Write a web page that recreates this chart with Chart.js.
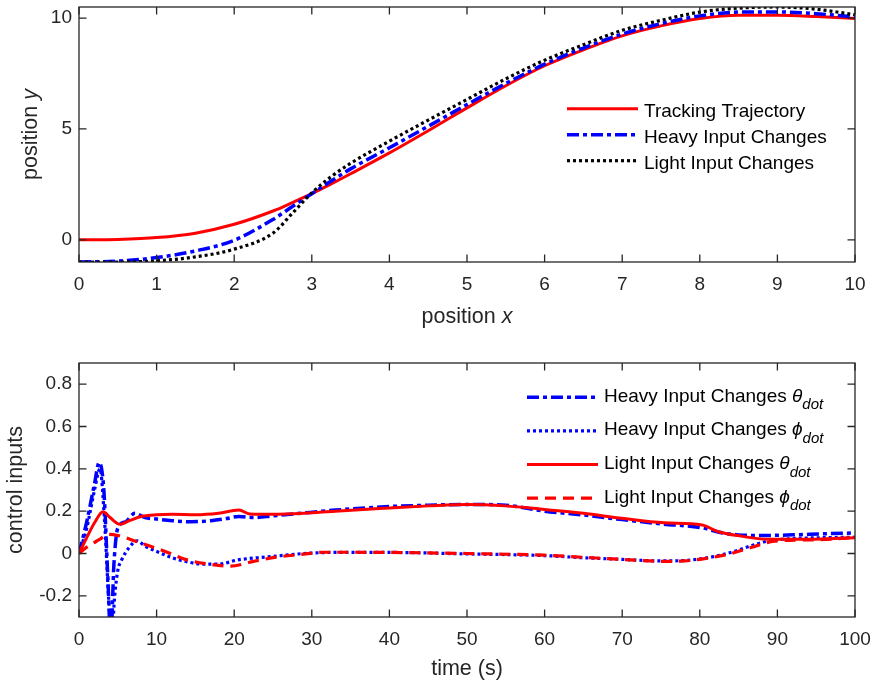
<!DOCTYPE html>
<html lang="en">
<head>
<meta charset="UTF-8">
<title>Trajectory tracking and control inputs</title>
<script src="https://cdn.jsdelivr.net/npm/chart.js"></script>
<style>
  html, body { margin: 0; padding: 0; background: #fff; }
  #wrap { position: relative; width: 875px; height: 687px; }
  #wrap canvas { position: absolute; left: 0; }
  #trajChart { top: 0; }
  #inputChart { top: 340px; }
</style>
</head>
<body>
<div id="wrap">
  <canvas id="trajChart" width="875" height="340"></canvas>
  <canvas id="inputChart" width="875" height="347"></canvas>
</div>
<script>
// ---- top subplot: position y against position x ----
const pathX      = [0, 0.5, 1, 1.5, 2, 2.5, 2.75, 3, 3.25, 3.5, 4, 4.5, 5, 5.5, 6, 6.5, 7, 7.5, 8, 8.5, 9, 9.5, 10];
const trackY     = [0, 0.02, 0.1, 0.3, 0.7, 1.3, 1.68, 2.08, 2.52, 2.98, 3.92, 4.92, 5.95, 6.95, 7.85, 8.57, 9.2, 9.65, 9.98, 10.13, 10.13, 10.07, 9.98];
const heavyPathY = [-1, -0.96, -0.8, -0.5, -0.02, 0.92, 1.5, 2.08, 2.65, 3.2, 4.15, 5.12, 6.1, 7.05, 7.92, 8.65, 9.28, 9.75, 10.1, 10.27, 10.28, 10.2, 10.05];
const lightPathY = [-1, -1, -0.95, -0.77, -0.42, 0.3, 1.2, 2.12, 2.85, 3.45, 4.45, 5.4, 6.33, 7.26, 8.1, 8.8, 9.45, 9.9, 10.27, 10.45, 10.5, 10.4, 10.15];
const topXTicks = [0, 1, 2, 3, 4, 5, 6, 7, 8, 9, 10];
const topYTicks = [0, 5, 10];

// ---- bottom subplot: control inputs against time ----
const heavyThetaT = [0, 1, 2, 2.6, 3.2, 3.7, 4.1, 4.5, 5, 6, 7.2, 8.5, 10, 12, 14.5, 17, 19, 20.6, 22.5, 25, 28, 33, 40, 45, 50, 55, 60, 65, 70, 75, 80.5, 82.5, 85, 88, 92, 96, 100];
const heavyThetaV = [0, 0.15, 0.33, 0.43, 0.3, -0.1, -0.4, -0.05, 0.12, 0.15, 0.19, 0.17, 0.163, 0.155, 0.15, 0.155, 0.165, 0.175, 0.17, 0.178, 0.188, 0.205, 0.222, 0.228, 0.232, 0.228, 0.2, 0.182, 0.16, 0.14, 0.12, 0.1, 0.088, 0.085, 0.088, 0.093, 0.097];
const heavyPhiT = [0, 1, 2, 2.7, 3.3, 3.8, 4.2, 4.6, 5, 5.5, 6.5, 7.5, 8.5, 10, 12, 14, 16, 18, 20.5, 23, 26, 29, 33, 40, 50, 60, 65, 70, 75, 78, 81, 84.5, 86.5, 88.7, 91.7, 95, 100];
const heavyPhiV = [0, 0.12, 0.3, 0.4, 0.15, -0.2, -0.4, -0.2, -0.08, -0.03, 0.03, 0.06, 0.035, 0.01, -0.02, -0.04, -0.05, -0.05, -0.03, -0.02, -0.01, 0, 0.005, 0.005, -0.002, -0.01, -0.02, -0.028, -0.035, -0.033, -0.02, 0.01, 0.035, 0.058, 0.07, 0.074, 0.077];
const lightThetaT = [0, 1, 2, 3.1, 4, 5.3, 6.5, 8, 10, 12, 15, 18, 20.6, 22, 25, 29, 33, 40, 45, 50, 55, 60, 65, 70, 75.4, 80.3, 82.3, 85.3, 88.7, 94, 100];
const lightThetaV = [0, 0.075, 0.145, 0.197, 0.17, 0.138, 0.155, 0.175, 0.183, 0.185, 0.183, 0.19, 0.205, 0.187, 0.185, 0.19, 0.2, 0.215, 0.225, 0.232, 0.225, 0.208, 0.19, 0.166, 0.145, 0.135, 0.104, 0.082, 0.067, 0.067, 0.075];
const lightPhiT = [0, 1, 2.6, 3.8, 5, 7.9, 11.1, 13.9, 16.7, 19.5, 22.5, 25.5, 28.5, 31.5, 40, 50, 60, 65, 70, 75, 78, 81, 83.5, 86.6, 89.6, 95, 100];
const lightPhiV = [0, 0.03, 0.065, 0.09, 0.085, 0.05, 0.01, -0.03, -0.05, -0.06, -0.037, -0.017, -0.005, 0.006, 0.005, 0, -0.008, -0.018, -0.028, -0.037, -0.035, -0.022, -0.005, 0.028, 0.058, 0.065, 0.075];
const bottomXTicks = [0, 10, 20, 30, 40, 50, 60, 70, 80, 90, 100];
const bottomYTicks = [-0.2, 0, 0.2, 0.4, 0.6, 0.8];

const FONT = '"Liberation Sans", Arial, Helvetica, sans-serif';
const INK = '#262626';

function series(xs, ys) {
    return xs.map((x, i) => ({ x: x, y: ys[i] }));
}

// text pieces: [text, style] with style '' normal, 'i' italic, 's' italic subscript
function partFont(p, size) {
    if (p[1] === 's') return 'italic ' + Math.round(size * 0.79) + 'px ' + FONT;
    return (p[1] === 'i' ? 'italic ' : '') + size + 'px ' + FONT;
}
function richWidth(ctx, parts, size) {
    return parts.reduce((w, p) => { ctx.font = partFont(p, size); return w + ctx.measureText(p[0]).width; }, 0);
}
function drawRich(ctx, parts, x, y, size) {
    ctx.textAlign = 'left';
    ctx.textBaseline = 'alphabetic';
    parts.forEach(p => {
        ctx.font = partFont(p, size);
        ctx.fillText(p[0], x, p[1] === 's' ? y + size * 0.4 : y);
        x += ctx.measureText(p[0]).width;
    });
}

// matlab style box, inward ticks, axis titles and legend
const frame = {
    id: 'frame',
    afterDatasetsDraw(chart, args, o) {
        const ctx = chart.ctx, a = chart.chartArea;
        const xs = chart.scales.x, ys = chart.scales.y;
        ctx.save();
        ctx.strokeStyle = INK;
        ctx.lineWidth = 1.3;
        ctx.setLineDash([]);
        ctx.beginPath();
        xs.ticks.forEach(t => {
            const p = xs.getPixelForValue(t.value);
            ctx.moveTo(p, a.bottom); ctx.lineTo(p, a.bottom - 7.5);
            ctx.moveTo(p, a.top); ctx.lineTo(p, a.top + 7.5);
        });
        ys.ticks.forEach(t => {
            const p = ys.getPixelForValue(t.value);
            ctx.moveTo(a.left, p); ctx.lineTo(a.left + 7.5, p);
            ctx.moveTo(a.right, p); ctx.lineTo(a.right - 7.5, p);
        });
        ctx.stroke();
        ctx.strokeRect(a.left, a.top, a.right - a.left, a.bottom - a.top);

        // axis titles
        ctx.fillStyle = INK;
        const xw = richWidth(ctx, o.xTitle, 21.5);
        drawRich(ctx, o.xTitle, (a.left + a.right) / 2 - xw / 2, o.xTitleY, 21.5);
        const yw = richWidth(ctx, o.yTitle, 21.5);
        ctx.save();
        ctx.translate(o.yTitleX, (a.top + a.bottom) / 2);
        ctx.rotate(-Math.PI / 2);
        drawRich(ctx, o.yTitle, -yw / 2, 0, 21.5);
        ctx.restore();

        // legend
        const L = o.legend;
        chart.data.datasets.forEach((ds, i) => {
            const base = L.y + i * L.dy;
            ctx.save();
            ctx.strokeStyle = ds.borderColor;
            ctx.lineWidth = ds.borderWidth;
            ctx.setLineDash(ds.borderDash || []);
            ctx.beginPath();
            ctx.moveTo(L.x, base + L.lineDy);
            ctx.lineTo(L.x + L.len, base + L.lineDy);
            ctx.stroke();
            ctx.restore();
            ctx.fillStyle = '#000';
            drawRich(ctx, ds.legendParts, L.x + L.len + 6, base, 19);
        });
        ctx.restore();
    }
};

function axis(min, max, ticks, pad, fit) {
    return {
        type: 'linear',
        min: min,
        max: max,
        grid: { display: false, drawTicks: false },
        border: { display: false },
        ticks: {
            color: INK,
            font: { family: FONT, size: 19 },
            padding: pad,
            autoSkip: false,
            maxRotation: 0,
            callback: v => String(v)
        },
        afterBuildTicks: s => { s.ticks = ticks.map(v => ({ value: v })); },
        afterFit: fit
    };
}

function xFit(h) {
    return s => { s.height = h; s.paddingLeft = 0; s.paddingRight = 0; };
}
function yFit(s) {
    s.width = 79; s.paddingTop = 0; s.paddingBottom = 0;
}

const common = {
    responsive: false,
    devicePixelRatio: 1,
    animation: false,
    events: [],
    elements: { point: { radius: 0 }, line: { cubicInterpolationMode: 'monotone' } }
};

new Chart(document.getElementById('trajChart'), {
    type: 'line',
    plugins: [frame],
    data: {
        datasets: [
            { label: 'Tracking Trajectory', legendParts: [['Tracking Trajectory', '']],
              data: series(pathX, trackY), borderColor: '#ff0000', borderWidth: 3, order: 3 },
            { label: 'Heavy Input Changes', legendParts: [['Heavy Input Changes', '']],
              data: series(pathX, heavyPathY), borderColor: '#0000ff', borderWidth: 3.5, borderDash: [12, 4, 4, 4], order: 2 },
            { label: 'Light Input Changes', legendParts: [['Light Input Changes', '']],
              data: series(pathX, lightPathY), borderColor: '#000000', borderWidth: 3.2, borderDash: [3, 3], order: 1 }
        ]
    },
    options: Object.assign({}, common, {
        layout: { padding: { top: 7, right: 20, left: 0, bottom: 0 } },
        scales: {
            x: axis(0, 10, topXTicks, 11, xFit(78)),
            y: axis(-1, 10.5, topYTicks, 7, yFit)
        },
        plugins: {
            legend: { display: false },
            tooltip: { enabled: false },
            frame: {
                xTitle: [['position ', ''], ['x', 'i']],
                xTitleY: 323,
                yTitle: [['position ', ''], ['y', 'i']],
                yTitleX: 37,
                legend: { x: 567, y: 116.7, dy: 26, len: 71, lineDy: -8 }
            }
        }
    })
});

new Chart(document.getElementById('inputChart'), {
    type: 'line',
    plugins: [frame],
    data: {
        datasets: [
            { label: 'Heavy Input Changes θdot', legendParts: [['Heavy Input Changes ', ''], ['θ', 'i'], ['dot', 's']],
              data: series(heavyThetaT, heavyThetaV), borderColor: '#0000ff', borderWidth: 3.5, borderDash: [12, 4, 4, 4], order: 4 },
            { label: 'Heavy Input Changes ϕdot', legendParts: [['Heavy Input Changes ', ''], ['ϕ', 'i'], ['dot', 's']],
              data: series(heavyPhiT, heavyPhiV), borderColor: '#0000ff', borderWidth: 3.2, borderDash: [3, 3], order: 3 },
            { label: 'Light Input Changes θdot', legendParts: [['Light Input Changes ', ''], ['θ', 'i'], ['dot', 's']],
              data: series(lightThetaT, lightThetaV), borderColor: '#ff0000', borderWidth: 3, order: 2 },
            { label: 'Light Input Changes ϕdot', legendParts: [['Light Input Changes ', ''], ['ϕ', 'i'], ['dot', 's']],
              data: series(lightPhiT, lightPhiV), borderColor: '#ff0000', borderWidth: 3.2, borderDash: [11, 7], order: 1 }
        ]
    },
    options: Object.assign({}, common, {
        layout: { padding: { top: 23, right: 20, left: 0, bottom: 0 } },
        scales: {
            x: axis(0, 100, bottomXTicks, 11, xFit(70)),
            y: axis(-0.3, 0.9, bottomYTicks, 7, yFit)
        },
        plugins: {
            legend: { display: false },
            tooltip: { enabled: false },
            frame: {
                xTitle: [['time (s)', '']],
                xTitleY: 335,
                yTitle: [['control inputs', '']],
                yTitleX: 21.5,
                legend: { x: 527, y: 61.7, dy: 33.6, len: 71, lineDy: -4.4 }
            }
        }
    })
});
</script>
</body>
</html>
